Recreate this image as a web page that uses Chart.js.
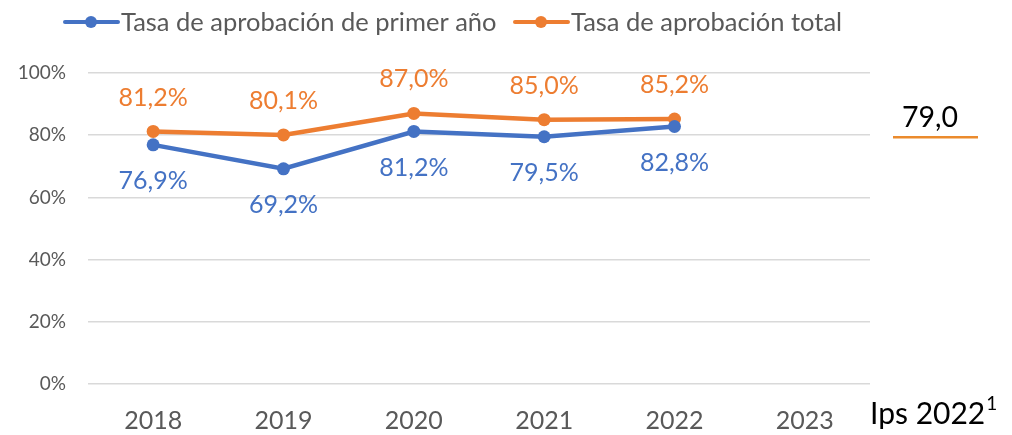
<!DOCTYPE html>
<html>
<head>
<meta charset="utf-8">
<script src="https://cdn.jsdelivr.net/npm/chart.js@4"></script>
<style>
  html, body { margin: 0; padding: 0; background: #fff; }
  #wrap { width: 1012px; height: 435px; }
</style>
</head>
<body>
<div id="wrap"><canvas id="chart" width="1012" height="435"></canvas></div>
<script>
// data
const years = ['2018', '2019', '2020', '2021', '2022', '2023'];
const firstYear = [76.9, 69.2, 81.2, 79.5, 82.8, null];
const total = [81.2, 80.1, 87.0, 85.0, 85.2, null];
const yTicks = [0, 20, 40, 60, 80, 100];
const ipsValue = 79.0;
const ipsLabel = 'Ips 2022';

const BLUE = '#4472C4';
const ORANGE = '#ED7D31';
const GREY = '#595959';
const FONT = 'Lato';

const fmt = v => v.toFixed(1).replace('.', ',');

// value labels above (orange) / below (blue) the points
const pointLabels = {
  id: 'pointLabels',
  afterDatasetsDraw(chart) {
    const ctx = chart.ctx;
    ctx.save();
    ctx.font = `25px ${FONT}`;
    ctx.textAlign = 'center';
    ctx.textBaseline = 'middle';
    chart.data.datasets.forEach((ds, i) => {
      const meta = chart.getDatasetMeta(i);
      meta.data.forEach((pt, j) => {
        const v = ds.data[j];
        if (v == null) return;
        ctx.fillStyle = ds.borderColor;
        const dy = ds.labelPos === 'above' ? -34 : 36;
        ctx.fillText(fmt(v) + '%', pt.x, pt.y + dy);
      });
    });
    ctx.restore();
  }
};

// legend, the 79,0 mark and the Ips caption
const extras = {
  id: 'extras',
  afterDraw(chart) {
    const ctx = chart.ctx;
    const area = chart.chartArea;
    const y = chart.scales.y;
    ctx.save();

    // legend
    const items = [
      { x: 65, color: BLUE, text: chart.data.datasets[0].label },
      { x: 515, color: ORANGE, text: chart.data.datasets[1].label }
    ];
    ctx.font = `25.5px ${FONT}`;
    ctx.textBaseline = 'middle';
    items.forEach(it => {
      ctx.strokeStyle = it.color;
      ctx.lineWidth = 4;
      ctx.lineCap = 'round';
      ctx.beginPath();
      ctx.moveTo(it.x, 22);
      ctx.lineTo(it.x + 53, 22);
      ctx.stroke();
      ctx.fillStyle = it.color;
      ctx.beginPath();
      ctx.arc(it.x + 26, 22, 6, 0, Math.PI * 2);
      ctx.fill();
      ctx.fillStyle = GREY;
      ctx.textAlign = 'left';
      ctx.fillText(it.text, it.x + 56, 23);
    });

    // Ips mark
    const py = y.getPixelForValue(ipsValue) - 1;
    ctx.strokeStyle = '#EB8B2D';
    ctx.lineWidth = 2.5;
    ctx.lineCap = 'butt';
    ctx.beginPath();
    ctx.moveTo(area.right + 23, py);
    ctx.lineTo(area.right + 108, py);
    ctx.stroke();
    ctx.fillStyle = '#000';
    ctx.font = `28.5px ${FONT}`;
    ctx.textAlign = 'center';
    ctx.textBaseline = 'alphabetic';
    ctx.fillText(fmt(ipsValue), area.right + 60, py - 10);

    // Ips caption with superscript
    ctx.textAlign = 'left';
    ctx.font = `30px ${FONT}`;
    const cx = area.right;
    ctx.fillText(ipsLabel, cx, 424);
    const w = ctx.measureText(ipsLabel).width;
    ctx.font = `19px ${FONT}`;
    ctx.fillText('1', cx + w + 1, 410);

    ctx.restore();
  }
};

new Chart(document.getElementById('chart'), {
  type: 'line',
  data: {
    labels: years,
    datasets: [
      {
        label: 'Tasa de aprobación de primer año',
        data: firstYear,
        borderColor: BLUE,
        backgroundColor: BLUE,
        borderWidth: 4.5,
        pointRadius: 6.5,
        pointHoverRadius: 6.5,
        pointBorderWidth: 0,
        tension: 0,
        labelPos: 'below'
      },
      {
        label: 'Tasa de aprobación total',
        data: total,
        borderColor: ORANGE,
        backgroundColor: ORANGE,
        borderWidth: 4.5,
        pointRadius: 6.5,
        pointHoverRadius: 6.5,
        pointBorderWidth: 0,
        tension: 0,
        labelPos: 'above'
      }
    ]
  },
  options: {
    responsive: false,
    animation: false,
    layout: { padding: { top: 73, right: 142, left: 0, bottom: 0 } },
    plugins: {
      legend: { display: false },
      tooltip: { enabled: false }
    },
    scales: {
      x: {
        offset: true,
        grid: { display: false },
        border: { display: false },
        ticks: { color: GREY, font: { family: FONT, size: 25 }, padding: 14 },
        afterFit(scale) { scale.height = 51; }
      },
      y: {
        min: 0,
        max: 100,
        afterBuildTicks(scale) { scale.ticks = yTicks.map(v => ({ value: v })); },
        grid: { color: '#D9D9D9', lineWidth: 1.5, drawTicks: false },
        border: { display: false },
        ticks: {
          color: GREY,
          font: { family: FONT, size: 19 },
          padding: 22,
          callback: v => v + '%'
        },
        afterFit(scale) { scale.width = 88; }
      }
    }
  },
  plugins: [pointLabels, extras]
});
</script>
</body>
</html>
